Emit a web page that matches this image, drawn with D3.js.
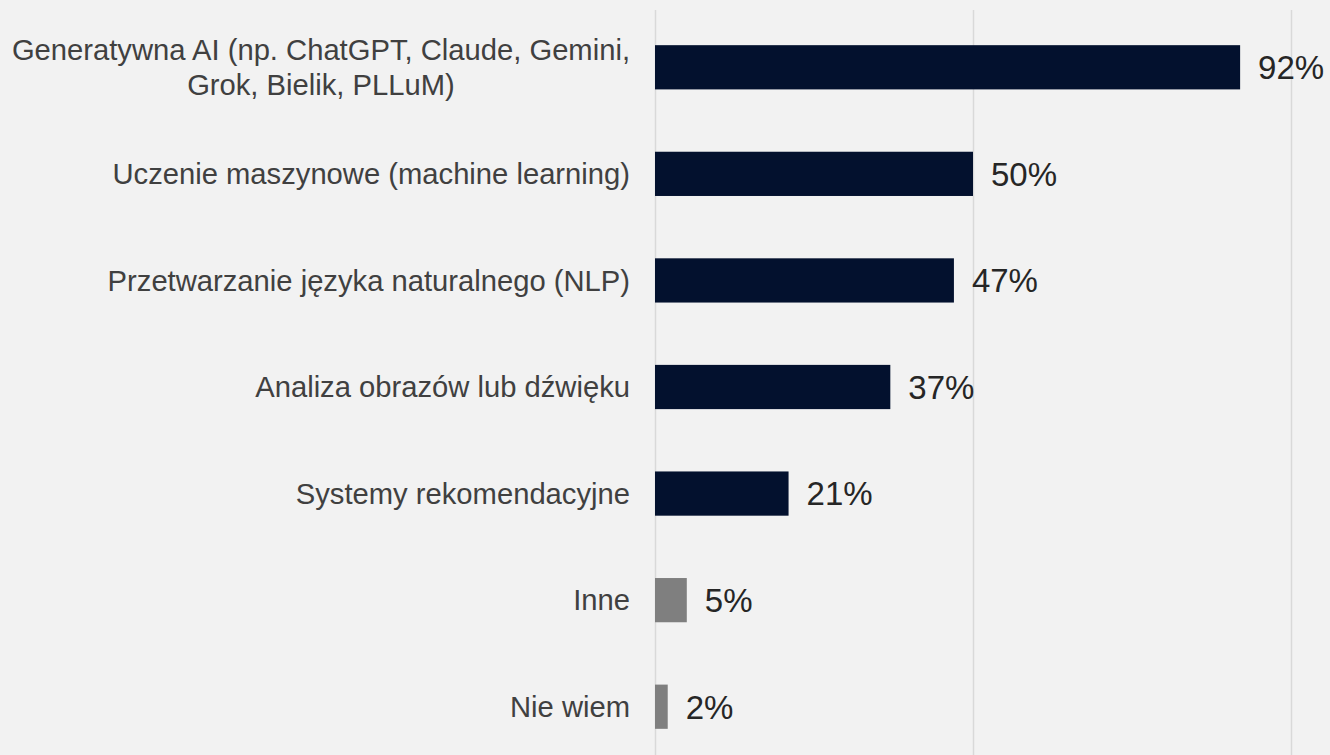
<!DOCTYPE html>
<html>
<head>
<meta charset="utf-8">
<script src="https://cdnjs.cloudflare.com/ajax/libs/d3/7.8.5/d3.min.js"></script>
<style>
    html, body {margin: 0; padding: 0; background: #f2f2f2;}
    svg {display: block;}
</style>
</head>
<body>
<div class="chart-wrapper"></div>
<script>
// kategorie (pierwsza w dwoch liniach)
var categories = [
    "Generatywna AI (np. ChatGPT, Claude, Gemini,\nGrok, Bielik, PLLuM)",
    "Uczenie maszynowe (machine learning)",
    "Przetwarzanie języka naturalnego (NLP)",
    "Analiza obrazów lub dźwięku",
    "Systemy rekomendacyjne",
    "Inne",
    "Nie wiem"
];
var values = [92, 50, 47, 37, 21, 5, 2];
var isOther = [false, false, false, false, false, true, true];
var gridTicks = [0, 50, 100];

var width = 1330, height = 755;
var margin = {top: 14, bottom: -5, left: 655, right: 39};

var svg = d3.select(".chart-wrapper").append("svg")
        .attr("width", width)
        .attr("height", height)
        .style("background-color", "#f2f2f2");

var x = d3.scaleLinear()
        .domain([0, 100])
        .range([margin.left, width - margin.right]);

var y = d3.scaleBand()
        .domain(categories)
        .range([margin.top, height - margin.bottom])
        .paddingInner(0.585)
        .paddingOuter(0.2925);

// linie siatki
svg.append("g")
        .attr("class", "grid")
        .attr("transform", "translate(0,10)")
        .call(d3.axisBottom(x).tickValues(gridTicks).tickSize(height).tickFormat(""))
        .call(function (g) {
            g.select(".domain").remove();
            g.selectAll(".tick line").attr("stroke", "#d9d9d9").attr("stroke-width", 1.5);
        });

var data = categories.map(function (c, i) {
    return {cat: c, value: values[i], other: isOther[i]};
});

svg.append("g").selectAll("rect")
        .data(data)
        .enter().append("rect")
        .attr("x", x(0))
        .attr("y", function (d) { return y(d.cat); })
        .attr("width", function (d) { return x(d.value) - x(0); })
        .attr("height", y.bandwidth())
        .attr("fill", function (d) { return d.other ? "#7f7f7f" : "#03112e"; });

// etykiety kategorii
var lineH = 35;
svg.append("g").selectAll("text")
        .data(data)
        .enter().append("text")
        .attr("text-anchor", "end")
        .attr("font-family", "Liberation Sans, Arial, sans-serif")
        .attr("font-size", 29.2)
        .attr("fill", "#404040")
        .each(function (d) {
            var lines = d.cat.split("\n");
            var cy = y(d.cat) + y.bandwidth() / 2;
            var t = d3.select(this);
            lines.forEach(function (l, j) {
                t.append("tspan")
                        .attr("x", x(0) - 25)
                        .attr("y", cy + (j - (lines.length - 1) / 2) * lineH)
                        .attr("dy", "0.35em")
                        .attr("text-anchor", lines.length > 1 && j > 0 ? "middle" : "end")
                        .text(l);
            });
            if (lines.length > 1) {
                // druga linia wysrodkowana pod pierwsza
                var first = t.select("tspan").node().getComputedTextLength();
                t.selectAll("tspan").filter(function (_, j) { return j > 0; })
                        .attr("x", x(0) - 25 - first / 2);
            }
        });

// etykiety wartosci
svg.append("g").selectAll("text")
        .data(data)
        .enter().append("text")
        .attr("x", function (d) { return x(d.value) + 18; })
        .attr("y", function (d) { return y(d.cat) + y.bandwidth() / 2; })
        .attr("dy", "0.36em")
        .attr("font-family", "Liberation Sans, Arial, sans-serif")
        .attr("font-size", 33)
        .attr("fill", "#262626")
        .text(function (d) { return d.value + "%"; });
</script>
</body>
</html>
